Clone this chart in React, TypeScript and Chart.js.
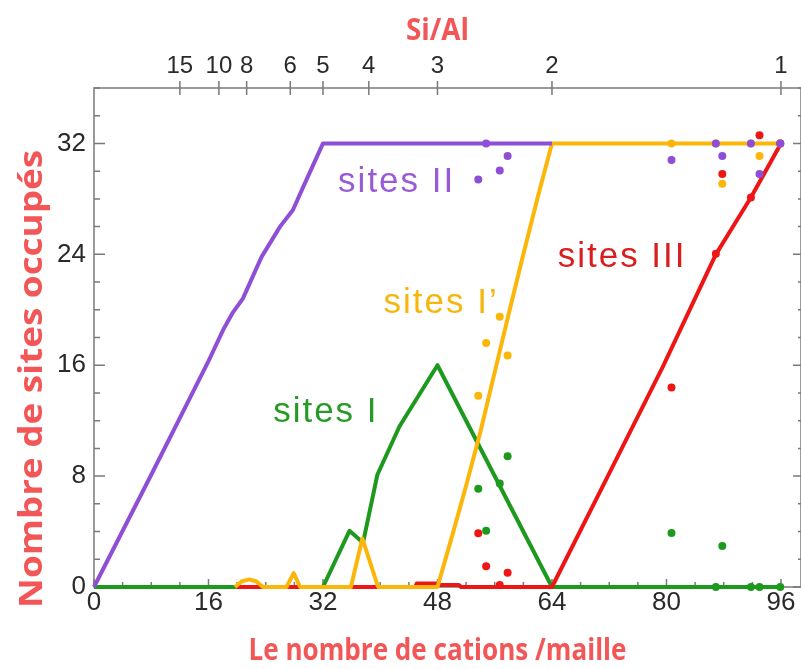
import React, { useEffect, useRef } from 'react';
import { Chart, registerables } from 'chart.js';

Chart.register(...registerables);

// ---- Data ----
// sites II (purple)
const siteIIx = [0, 8, 16, 18, 19.4, 20.8, 23.4, 26.0, 27.8, 29.1, 32, 64];
const siteIIy = [0, 8.1, 16.3, 18.5, 19.8, 20.8, 23.8, 26.0, 27.2, 28.7, 32, 32];
// sites I' (orange)
const sitePx = [19.7, 20.6, 21.7, 22.7, 23.6, 26.9, 27.9, 28.8, 35.9, 37.5, 39.7, 48, 50, 52, 54, 56, 58, 60, 62, 64, 96];
const sitePy = [0, 0.4, 0.55, 0.4, 0, 0, 1.0, 0, 0, 3.5, 0, 0, 3.6, 7.3, 11.2, 15.5, 19.8, 24.0, 28.1, 32, 32];
// sites I (green)
const siteIx = [0, 32, 35.7, 37.6, 39.6, 42.7, 48, 64, 96];
const siteIy = [0, 0, 4.05, 3.2, 8.1, 11.6, 16, 0, 0];
// sites III (red)
const siteIIIx = [20, 44.9, 45.1, 47.8, 48.3, 51, 51.3, 64, 72, 79.5, 86.9, 91.8, 96];
const siteIIIy = [0, 0, 0.25, 0.25, 0.15, 0.15, 0, 0, 8.2, 15.9, 24.0, 28.1, 32];

// scattered points (same cation counts for every site type)
const dotX = [53.7, 54.8, 56.7, 57.8, 80.7, 86.9, 87.8, 91.8, 93.0, 95.9];
const dotII = [29.4, 32, 30.05, 31.1, 30.8, 32, 31.1, 32, 29.8, 32];
const dotIp = [13.8, 17.6, 19.5, 16.7, 32, 32, 29.1, 32, 31.1, 32];
const dotI = [7.08, 4.06, 7.47, 9.44, 3.9, 0, 2.95, 0, 0, 0];
const dotIII = [3.87, 1.5, 0.14, 1.03, 14.4, 24.05, 29.8, 28.1, 32.6, 32];

// axes
const xMajorTicks = [0, 16, 32, 48, 64, 80, 96];
const yMajorTicks = [0, 8, 16, 24, 32];
const siAlRatios = [15, 10, 8, 6, 5, 4, 3, 2, 1];
const T_ATOMS = 192; // T atoms per unit cell: n(cations) = 192 / (1 + Si/Al)

const X_TITLE = 'Le nombre de cations /maille';
const Y_TITLE = 'Nombre de sites occupés';
const TOP_TITLE = 'Si/Al';

const PURPLE = '#8e4fd6';
const ORANGE = '#fcb60a';
const GREEN = '#1d9a1d';
const RED = '#ee1515';
const TITLE_RED = '#f25656';

const pts = (xs: number[], ys: number[]) => xs.map((x, i) => ({ x, y: ys[i] }));

const labels = [
  { text: 'sites II', x: 42.3, y: 28.5, color: '#9a5ad8' },
  { text: 'sites I\u2019', x: 48.5, y: 19.8, color: '#f6b60c' },
  { text: 'sites III', x: 73.8, y: 23.1, color: '#d81e1e' },
  { text: 'sites I', x: 32.4, y: 11.9, color: '#259a25' },
];

function fittedText(ctx: any, text: string, x: number, y: number, width: number, size: number, rot: number) {
  ctx.save();
  ctx.translate(x, y);
  ctx.rotate(rot);
  ctx.font = `bold ${size}px "Open Sans", sans-serif`;
  const w = ctx.measureText(text).width;
  ctx.scale(width / w, 1);
  ctx.textAlign = 'center';
  ctx.textBaseline = 'alphabetic';
  ctx.fillStyle = TITLE_RED;
  ctx.fillText(text, 0, 0);
  ctx.restore();
}

const framePlugin = {
  id: 'frameTicks',
  beforeDatasetsDraw(chart: any) {
    const { ctx, chartArea: a, scales } = chart;
    const xs = scales.x, ys = scales.y, x2 = scales.x2;
    ctx.save();
    ctx.strokeStyle = '#7a7a7a';
    ctx.lineWidth = 1.5;
    ctx.strokeRect(a.left, a.top, a.right - a.left, a.bottom - a.top);
    ctx.beginPath();
    // bottom ticks (inward)
    for (let v = 0; v <= 96; v += 4) {
      const px = xs.getPixelForValue(v);
      const len = xMajorTicks.includes(v) ? 8 : 5;
      ctx.moveTo(px, a.bottom);
      ctx.lineTo(px, a.bottom - len);
    }
    // left / right ticks
    for (let v = 0; v <= 36; v += 2) {
      const py = ys.getPixelForValue(v);
      const major = yMajorTicks.includes(v);
      ctx.moveTo(a.left, py);
      ctx.lineTo(a.left + (major ? 11 : 6), py);
      ctx.moveTo(a.right, py);
      ctx.lineTo(a.right - (major ? 8 : 3), py);
    }
    // top ticks (crossing the frame)
    siAlRatios.forEach((r) => {
      const px = x2.getPixelForValue(T_ATOMS / (1 + r));
      ctx.moveTo(px, a.top - 7);
      ctx.lineTo(px, a.top + 7);
    });
    ctx.stroke();
    ctx.restore();
  },
  afterDatasetsDraw(chart: any) {
    const { ctx, scales } = chart;
    ctx.save();
    ctx.font = '35px "Liberation Sans", Arial, sans-serif';
    ctx.letterSpacing = '2px';
    ctx.textAlign = 'center';
    ctx.textBaseline = 'alphabetic';
    labels.forEach((l) => {
      ctx.fillStyle = l.color;
      ctx.fillText(l.text, scales.x.getPixelForValue(l.x), scales.y.getPixelForValue(l.y));
    });
    ctx.restore();
  },
  afterDraw(chart: any) {
    const { ctx, scales } = chart;
    const cx = scales.x.getPixelForValue(48);
    fittedText(ctx, X_TITLE, cx, 660, 378, 30, 0);
    fittedText(ctx, TOP_TITLE, cx, 40, 63, 30, 0);
    fittedText(ctx, Y_TITLE, 42, 379, 458, 33, -Math.PI / 2);
  },
};

const lineDs = (label: string, data: any[], color: string, order: number) => ({
  type: 'line' as const,
  label,
  data,
  borderColor: color,
  backgroundColor: color,
  borderWidth: 4,
  pointRadius: 0,
  tension: 0,
  fill: false,
  borderJoinStyle: 'round' as const,
  clip: false as any,
  order,
});

const dotDs = (label: string, ys: number[], color: string, order: number) => ({
  type: 'scatter' as const,
  label,
  data: pts(dotX, ys),
  showLine: false,
  pointRadius: 4,
  pointBorderWidth: 0,
  backgroundColor: color,
  borderColor: color,
  clip: false as any,
  order,
});

const noPad = (s: any) => { s.paddingLeft = 0; s.paddingRight = 0; };

export default function App() {
  const ref = useRef<HTMLCanvasElement | null>(null);
  useEffect(() => {
    if (!ref.current) return;
    const tickFont = { family: '"Liberation Sans", Arial, sans-serif', size: 26 };
    const chart = new Chart(ref.current, {
      type: 'scatter',
      data: {
        datasets: [
          dotDs('II pts', dotII, PURPLE, 0),
          dotDs('III pts', dotIII, RED, 1),
          dotDs('I pts', dotI, GREEN, 2),
          dotDs("I' pts", dotIp, ORANGE, 3),
          lineDs('sites II', pts(siteIIx, siteIIy), PURPLE, 10),
          lineDs("sites I'", pts(sitePx, sitePy), ORANGE, 11),
          lineDs('sites III', pts(siteIIIx, siteIIIy), RED, 12),
          lineDs('sites I', pts(siteIx, siteIy), GREEN, 13),
        ] as any,
      },
      options: {
        animation: false,
        responsive: true,
        maintainAspectRatio: false,
        layout: { padding: 0, autoPadding: false },
        plugins: { legend: { display: false }, tooltip: { enabled: false } },
        scales: {
          x: {
            type: 'linear',
            position: 'bottom',
            min: 0,
            max: 98.8,
            grid: { display: false, drawTicks: false },
            border: { display: false },
            ticks: { stepSize: 16, includeBounds: false, font: tickFont, color: '#2a2a2a', padding: 0, maxRotation: 0 },
            title: { display: false, text: X_TITLE },
            afterFit: (s: any) => { s.height = 82; noPad(s); },
          },
          x2: {
            type: 'linear',
            position: 'top',
            min: 0,
            max: 98.8,
            grid: { display: false, drawTicks: false },
            border: { display: false },
            afterBuildTicks: (s: any) => { s.ticks = siAlRatios.map((r) => ({ value: T_ATOMS / (1 + r) })); },
            ticks: {
              autoSkip: false,
              maxRotation: 0,
              font: { family: '"Liberation Sans", Arial, sans-serif', size: 24 },
              color: '#2a2a2a',
              padding: 7,
              callback: (_v: any, i: number) => String(siAlRatios[i]),
            },
            title: { display: false, text: TOP_TITLE },
            afterFit: (s: any) => { s.height = 88; noPad(s); },
          },
          y: {
            type: 'linear',
            position: 'left',
            min: 0,
            max: 36,
            grid: { display: false, drawTicks: false },
            border: { display: false },
            ticks: { stepSize: 8, includeBounds: false, font: tickFont, color: '#2a2a2a', padding: 8 },
            title: { display: false, text: Y_TITLE },
            afterFit: (s: any) => { s.width = 94; },
          },
        },
      } as any,
      plugins: [framePlugin],
    });
    return () => chart.destroy();
  }, []);
  return (
    <div style={{ position: 'fixed', left: 0, top: 0, width: 801, height: 669, background: '#fff' }}>
      <canvas ref={ref} />
    </div>
  );
}
